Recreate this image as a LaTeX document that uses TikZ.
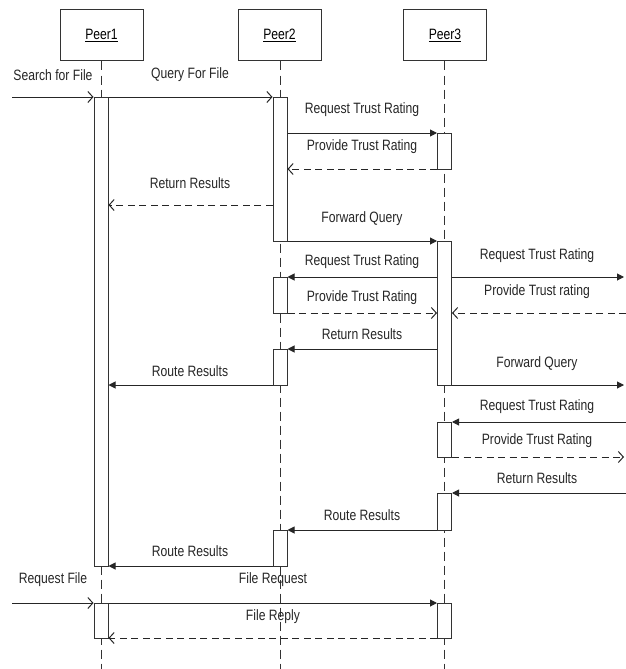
\documentclass[tikz,border=0pt]{standalone}
\usepackage{fontspec}
\setmainfont{Liberation Sans}
\newfontfamily\lblfont[FakeStretch=0.81]{Liberation Sans}
\usetikzlibrary{arrows.meta}
\begin{document}
\begin{tikzpicture}[x=1pt,y=-1pt,
  every node/.style={font=\lblfont\fontsize{15}{17}\selectfont},
  peer/.style={draw=black!80,line width=1pt,minimum width=83pt,minimum height=51pt,inner sep=0pt,fill=white},
  bar/.style={draw=black!80,line width=1pt,fill=white,minimum width=14pt,inner sep=0pt,anchor=north},
  life/.style={draw=black!80,line width=1pt,dash pattern=on 9pt off 5pt},
  msg/.style={draw=black!85,line width=1pt,-{Triangle[length=7pt,width=7pt]}},
  open/.style={draw=black!85,line width=1pt,-{Straight Barb[length=5pt,width=11pt]}},
  ret/.style={open,dash pattern=on 7pt off 4.5pt},
  lbl/.style={text=black!85,inner sep=0pt}]
\useasboundingbox (0,0) rectangle (626,669);
% peers
\node[peer] (peer1) at (101.5,35.5) {\underline{Peer1}};
\node[peer] (peer2) at (279.5,35.5) {\underline{Peer2}};
\node[peer] (peer3) at (445,35.5) {\underline{Peer3}};
\coordinate (end1) at (101,669);
\coordinate (end2) at (280,669);
\coordinate (end3) at (444.5,669);
\draw[life] (peer1.south -| end1) -- (end1);
\draw[life] (peer2.south -| end2) -- (end2);
\draw[life] (peer3.south -| end3) -- (end3);
% activation bars
\node[bar,minimum height=469pt] (p1a) at (101,97) {};
\node[bar,minimum height=35pt] (p1b) at (101,603) {};
\node[bar,minimum height=144pt] (p2a) at (280,97) {};
\node[bar,minimum height=36pt] (p2b) at (280,277) {};
\node[bar,minimum height=36pt] (p2c) at (280,349) {};
\node[bar,minimum height=36pt] (p2d) at (280,530) {};
\node[bar,minimum height=36pt] (p3a) at (444.5,133) {};
\node[bar,minimum height=144pt] (p3b) at (444.5,241) {};
\node[bar,minimum height=35pt] (p3c) at (444.5,422) {};
\node[bar,minimum height=37pt] (p3d) at (444.5,493) {};
\node[bar,minimum height=35pt] (p3e) at (444.5,603) {};
% message levels
\coordinate (y1) at (0,97);
\coordinate (y3) at (0,133);
\coordinate (y4) at (0,169);
\coordinate (y5) at (0,205);
\coordinate (y6) at (0,241);
\coordinate (y7) at (0,277);
\coordinate (y8) at (0,313);
\coordinate (y11) at (0,349);
\coordinate (y12) at (0,385);
\coordinate (y14) at (0,422);
\coordinate (y15) at (0,457);
\coordinate (y16) at (0,493);
\coordinate (y17) at (0,530);
\coordinate (y18) at (0,566);
\coordinate (y19) at (0,603);
\coordinate (y21) at (0,638);
% free ends
\coordinate (inA) at (12,97);
\coordinate (inB) at (12,603);
\coordinate (outA) at (624,277);
\coordinate (inC) at (626,313);
\coordinate (outB) at (624,385);
\coordinate (inD) at (626,422);
\coordinate (outC) at (624,457);
\coordinate (inE) at (626,493);
% messages
\draw[open] (inA) -- (p1a.west |- y1);
\draw[open] (p1a.east |- y1) -- (p2a.west |- y1);
\draw[msg] (p2a.east |- y3) -- (p3a.west |- y3);
\draw[ret] (p3a.west |- y4) -- (p2a.east |- y4);
\draw[ret] (p2a.west |- y5) -- (p1a.east |- y5);
\draw[msg] (p2a.east |- y6) -- (p3b.west |- y6);
\draw[msg] (p3b.west |- y7) -- (p2b.east |- y7);
\draw[ret] (p2b.east |- y8) -- (p3b.west |- y8);
\draw[msg] (p3b.east |- y7) -- (outA);
\draw[ret] (inC) -- (p3b.east |- y8);
\draw[msg] (p3b.west |- y11) -- (p2c.east |- y11);
\draw[msg] (p2c.west |- y12) -- (p1a.east |- y12);
\draw[msg] (p3b.east |- y12) -- (outB);
\draw[msg] (inD) -- (p3c.east |- y14);
\draw[ret] (p3c.east |- y15) -- (outC);
\draw[msg] (inE) -- (p3d.east |- y16);
\draw[msg] (p3d.west |- y17) -- (p2d.east |- y17);
\draw[msg] (p2d.west |- y18) -- (p1a.east |- y18);
\draw[open] (inB) -- (p1b.west |- y19);
\draw[msg] (p1b.east |- y19) -- (p3e.west |- y19);
\draw[ret] (p3e.west |- y21) -- (p1b.east |- y21);
% labels
\node[lbl] (l1) at (53,75) {Search for File};
\node[lbl] (l2) at (190,75) {Query For File};
\node[lbl] (l3) at (362,110) {Request Trust Rating};
\node[lbl] (l4) at (362,147) {Provide Trust Rating};
\node[lbl] (l5) at (190,183) {Return Results};
\node[lbl] (l6) at (362,219) {Forward Query};
\node[lbl] (l7) at (362,262) {Request Trust Rating};
\node[lbl] (l8) at (362,298) {Provide Trust Rating};
\node[lbl] (l9) at (537,256) {Request Trust Rating};
\node[lbl] (l10) at (537,292) {Provide Trust rating};
\node[lbl] (l11) at (362,334) {Return Results};
\node[lbl] (l12) at (190,371) {Route Results};
\node[lbl] (l13) at (537,364) {Forward Query};
\node[lbl] (l14) at (537,407) {Request Trust Rating};
\node[lbl] (l15) at (537,441) {Provide Trust Rating};
\node[lbl] (l16) at (537,478) {Return Results};
\node[lbl] (l17) at (362,515) {Route Results};
\node[lbl] (l18) at (190,551) {Route Results};
\node[lbl] (l19) at (53,580) {Request File};
\node[lbl] (l20) at (273,580) {File Request};
\node[lbl] (l21) at (273,617) {File Reply};
\end{tikzpicture}
\end{document}
